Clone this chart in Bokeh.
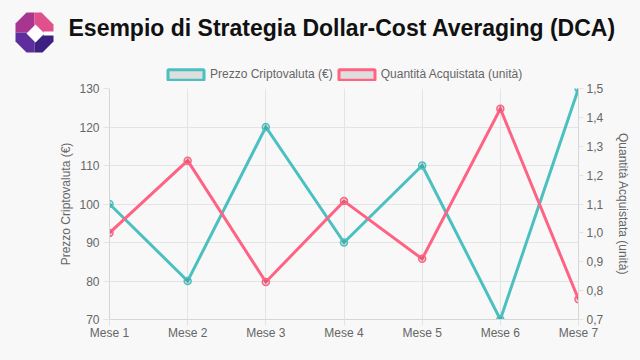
from bokeh.plotting import figure
from bokeh.models import (Range1d, LinearAxis, FixedTicker, CustomJSTickFormatter,
                          Legend, LegendItem)
from bokeh.embed import file_html
from bokeh.resources import INLINE
from bokeh.core.properties import value

# ---------------- data ----------------
categories = ["Mese 1", "Mese 2", "Mese 3", "Mese 4", "Mese 5", "Mese 6", "Mese 7"]
prezzo = [100, 80, 120, 90, 110, 70, 130]
quantita = [1.0, 1.25, 0.83, 1.11, 0.91, 1.43, 0.77]
price_ticks = [70, 80, 90, 100, 110, 120, 130]
qty_ticks = [0.7, 0.8, 0.9, 1.0, 1.1, 1.2, 1.3, 1.4, 1.5]
series_labels = ["Prezzo Criptovaluta (€)", "Quantità Acquistata (unità)"]
title_text = "Esempio di Strategia Dollar-Cost Averaging (DCA)"

# ---------------- style ----------------
BG = "#f8f8f8"
TEAL = "#4bc0c0"
PINK = "#ff6384"
FONT = "Liberation Sans"
TXT = "#666666"
GRID = "#e4e4e4"
W = 640
NAN = float("nan")

# ---------------- header (logo + title + legend) ----------------
HH = 82
hdr = figure(width=W, height=HH, x_range=Range1d(0, W), y_range=Range1d(HH, 0),
             output_backend="svg", toolbar_location=None, min_border=0,
             x_axis_location=None, y_axis_location=None)
hdr.grid.visible = False
hdr.outline_line_color = None
hdr.background_fill_color = BG
hdr.border_fill_color = BG

ox, oy = 15, 12  # logo origin
logo_parts = [
    ([0, 11, 19, 19, 0], [11, 0, 0, 20, 20], "#a8358f"),
    ([19, 26, 38, 38, 19], [0, 0, 12, 20, 20], "#e0508c"),
    ([0, 19, 19, 11, 0], [20, 20, 40, 40, 29], "#5e2e9e"),
    ([19, 38, 38, 27, 19], [20, 20, 29, 40, 40], "#3d2082"),
    ([20, 29, 20, 11], [12, 21, 30, 21], "#ffffff"),
    ([28, 39, 39, 28], [19, 19, 23, 23], "#ffffff"),
]
for xs_, ys_, col in logo_parts:
    hdr.patch([ox + v for v in xs_], [oy + v for v in ys_], fill_color=col, line_color=None)

hdr.text(x=[68], y=[27], text=[title_text], text_font=value(FONT), text_font_size="23px",
         text_font_style="bold", text_color="#111111", text_baseline="middle", text_align="left")

lg1 = hdr.rect(x=[NAN], y=[NAN], width=1, height=1, fill_color="black", fill_alpha=0.1,
               line_color=TEAL, line_width=3)
lg2 = hdr.rect(x=[NAN], y=[NAN], width=1, height=1, fill_color="black", fill_alpha=0.1,
               line_color=PINK, line_width=3)
legend = Legend(items=[LegendItem(label=series_labels[0], renderers=[lg1]),
                       LegendItem(label=series_labels[1], renderers=[lg2])],
                orientation="horizontal", location=(163, 1),
                glyph_width=45, glyph_height=13, label_height=13, label_standoff=2,
                spacing=1, padding=0, margin=0,
                label_text_font=FONT, label_text_font_size="12px", label_text_color=TXT,
                background_fill_alpha=0, border_line_alpha=0)
hdr.add_layout(legend)

# ---------------- main chart ----------------
xs = list(range(len(categories)))
p = figure(width=W, height=278, output_backend="svg", toolbar_location=None,
           x_range=Range1d(xs[0], xs[-1]), y_range=Range1d(price_ticks[0], price_ticks[-1]),
           min_border_left=109, min_border_right=62, min_border_top=6, min_border_bottom=41)
p.background_fill_color = BG
p.border_fill_color = BG
p.outline_line_color = None
p.extra_y_ranges = {"qty": Range1d(qty_ticks[0], qty_ticks[-1])}

right = LinearAxis(y_range_name="qty")
p.add_layout(right, "right")

p.xaxis.ticker = FixedTicker(ticks=xs)
p.xaxis.major_label_overrides = {i: c for i, c in enumerate(categories)}
p.yaxis[0].ticker = FixedTicker(ticks=price_ticks)
right.ticker = FixedTicker(ticks=qty_ticks)
right.formatter = CustomJSTickFormatter(code="return tick.toFixed(1).replace('.', ',');")

p.yaxis[0].axis_label = series_labels[0]
right.axis_label = series_labels[1]

for ax in [p.xaxis[0], p.yaxis[0], right]:
    ax.axis_line_color = "#d6d6d6"
    ax.major_tick_line_color = GRID
    ax.minor_tick_line_color = None
    ax.major_tick_in = 0
    ax.major_label_text_font = FONT
    ax.major_label_text_font_size = "12px"
    ax.major_label_text_color = TXT
    ax.axis_label_text_font = FONT
    ax.axis_label_text_font_size = "12px"
    ax.axis_label_text_color = TXT
    ax.axis_label_text_font_style = "normal"

p.xaxis[0].major_tick_out = 6
p.xaxis[0].major_label_standoff = 0
p.yaxis[0].major_tick_out = 6
p.yaxis[0].major_label_standoff = 4
p.yaxis[0].axis_label_standoff = 3
right.major_tick_out = 5
right.major_label_standoff = 3
right.axis_label_standoff = 10

p.xgrid.grid_line_color = GRID
p.ygrid.grid_line_color = GRID

p.line(xs, prezzo, line_color=TEAL, line_width=3, line_join="miter")
p.scatter(xs, prezzo, size=7, fill_color="black", fill_alpha=0.1, line_color=TEAL, line_width=1.5)
p.line(xs, quantita, line_color=PINK, line_width=3, line_join="miter", y_range_name="qty")
p.scatter(xs, quantita, size=7, fill_color="black", fill_alpha=0.1, line_color=PINK,
          line_width=1.5, y_range_name="qty")

html = file_html([hdr, p], INLINE)
html = html.replace("<body>", '<body style="background:#f8f8f8;">')
open("out.html", "w").write(html)
